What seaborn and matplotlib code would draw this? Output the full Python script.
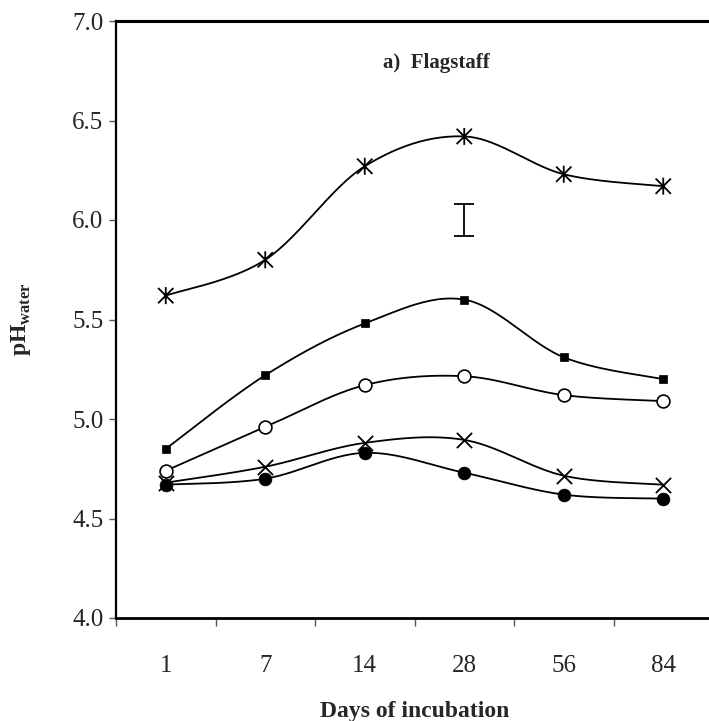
import numpy as np
import pandas as pd
import matplotlib
matplotlib.use("Agg")
import matplotlib.pyplot as plt
from matplotlib.path import Path
import seaborn as sns

days = ["1", "7", "14", "28", "56", "84"]
star_vals = [5.62, 5.80, 6.27, 6.42, 6.23, 6.17]
square_vals = [4.85, 5.22, 5.48, 5.60, 5.31, 5.20]
open_circle_vals = [4.74, 4.96, 5.17, 5.215, 5.12, 5.09]
cross_vals = [4.68, 4.76, 4.88, 4.895, 4.715, 4.67]
filled_circle_vals = [4.67, 4.70, 4.83, 4.73, 4.62, 4.60]
errbar_day = "28"
errbar_center = 6.0
errbar_half = 0.08
title_text = "a)  Flagstaff"
yticks = [4.0, 4.5, 5.0, 5.5, 6.0, 6.5, 7.0]

sns.set_theme(style="white")
plt.rcParams["font.family"] = ["Liberation Serif", "DejaVu Serif"]
plt.rcParams["mathtext.fontset"] = "custom"
plt.rcParams["mathtext.rm"] = "Liberation Serif"
plt.rcParams["mathtext.bf"] = "Liberation Serif:bold"

fig = plt.figure(figsize=(7.09, 7.21), dpi=100)
ax = fig.add_axes([116 / 709, (721 - 618) / 721, 597 / 709, 597 / 721])

x_idx = np.arange(len(days))


def smooth(xs, ys, n=30):
    # Excel-like smoothed line (Catmull-Rom / Bezier) through the data points
    xs = np.asarray(xs, float)
    ys = np.asarray(ys, float)
    P = np.column_stack([xs, ys])
    out = []
    for i in range(len(P) - 1):
        p0 = P[i - 1] if i > 0 else P[i]
        p1 = P[i]
        p2 = P[i + 1]
        p3 = P[i + 2] if i + 2 < len(P) else P[i + 1]
        c1 = p1 + (p2 - p0) / 6.0
        c2 = p2 - (p3 - p1) / 6.0
        t = np.linspace(0, 1, n)[:, None]
        seg = (1 - t) ** 3 * p1 + 3 * (1 - t) ** 2 * t * c1 + 3 * (1 - t) * t ** 2 * c2 + t ** 3 * p2
        out.append(seg if i == 0 else seg[1:])
    return np.vstack(out)


star_marker = Path(
    [(0, -1), (0, 1), (-0.9, -0.9), (0.9, 0.9), (-0.9, 0.9), (0.9, -0.9)],
    [Path.MOVETO, Path.LINETO, Path.MOVETO, Path.LINETO, Path.MOVETO, Path.LINETO],
)

series = [
    ("star", star_vals, dict(marker=star_marker, s=150, facecolor="none", edgecolor="black", linewidth=1.3)),
    ("square", square_vals, dict(marker="s", s=36, color="black", edgecolor="black", linewidth=0.5)),
    ("ocircle", open_circle_vals, dict(marker="o", s=85, facecolor="white", edgecolor="black", linewidth=1.2)),
    ("cross", cross_vals, dict(marker="x", s=120, color="black", linewidth=1.3)),
    ("fcircle", filled_circle_vals, dict(marker="o", s=85, color="black", edgecolor="black", linewidth=0.5)),
]

for name, vals, mk in series:
    curve = smooth(x_idx, vals)
    cdf = pd.DataFrame({"x": curve[:, 0], "y": curve[:, 1]})
    sns.lineplot(data=cdf, x="x", y="y", ax=ax, color="black", linewidth=1.3,
                 sort=False, estimator=None, zorder=2)
    pdf = pd.DataFrame({"x": x_idx, "y": vals})
    sns.scatterplot(data=pdf, x="x", y="y", ax=ax, zorder=3, legend=False, **mk)

# LSD / error bar
ex = days.index(errbar_day)
ax.errorbar([ex], [errbar_center], yerr=[errbar_half], fmt="none", ecolor="black",
            elinewidth=1.3, capsize=7, capthick=1.3)

ax.set_xlim(-0.5, len(days) - 0.5)
ax.set_ylim(4.0, 7.0)
ax.set_yticks(yticks)
ax.set_yticklabels([f"{v:.1f}" for v in yticks], fontsize=18)

ax.set_xticks(np.arange(len(days) + 1) - 0.5)
ax.set_xticklabels([])
ax.set_xticks(x_idx, minor=True)
ax.set_xticklabels(days, minor=True, fontsize=18)
ax.tick_params(axis="x", which="major", direction="out", length=6, width=1, color="#555555", bottom=True)
ax.tick_params(axis="x", which="minor", length=0, pad=27)
ax.tick_params(axis="y", which="major", direction="out", length=5, width=1, color="#555555", left=True, pad=4)

for side in ["top", "left", "bottom"]:
    ax.spines[side].set_visible(True)
    ax.spines[side].set_color("black")
ax.spines["top"].set_linewidth(2.2)
ax.spines["bottom"].set_linewidth(2.0)
ax.spines["left"].set_linewidth(1.6)
ax.spines["right"].set_visible(False)
ax.grid(False)

ax.set_xlabel("Days of incubation", fontsize=17, fontweight="bold", labelpad=17)
ax.set_ylabel(r"$\mathbf{pH}_{\mathbf{water}}$", fontsize=17, labelpad=28)

ax.text(2.72, 6.79, title_text, ha="center", va="center", fontsize=15, fontweight="bold")

fig.savefig("out.png", dpi=100)
